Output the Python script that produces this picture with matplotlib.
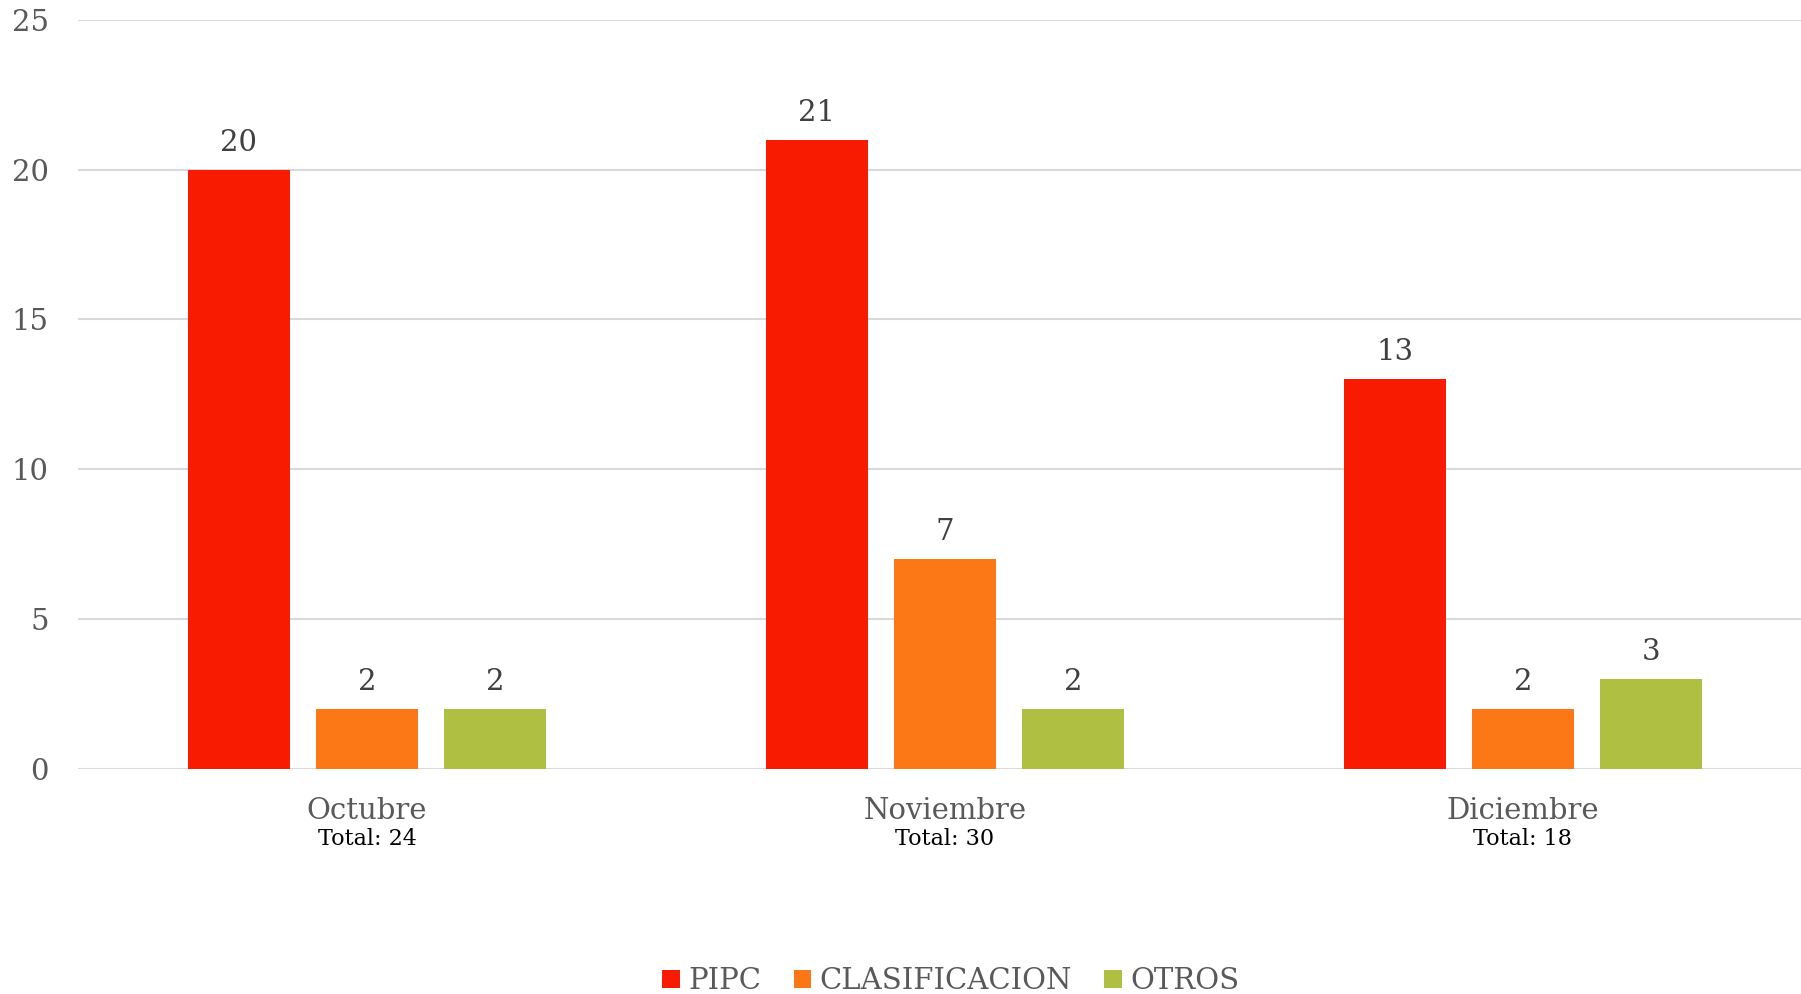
import matplotlib.pyplot as plt
import numpy as np

# data
months = ["Octubre", "Noviembre", "Diciembre"]
totals = [24, 30, 18]
series = ["PIPC", "CLASIFICACION", "OTROS"]
pipc = [20, 21, 13]
clasificacion = [2, 7, 2]
otros = [2, 2, 3]
colors = ["#F81B02", "#FC7715", "#AFBF41"]

plt.rcParams["font.family"] = "DejaVu Serif"

fig = plt.figure(figsize=(18.01, 9.94), dpi=100)
ax = fig.add_axes([0.0433, 0.2267, 0.9628, 0.7532])

x = np.arange(len(months))
w = 0.175
step = 0.2215
values = [pipc, clasificacion, otros]
for i, (name, vals) in enumerate(zip(series, values)):
    bars = ax.bar(x + (i - 1) * step, vals, w, color=colors[i], label=name, zorder=3)
    for b, v in zip(bars, vals):
        ax.annotate(str(v), (b.get_x() + b.get_width() / 2, v), xytext=(0, 9.5),
                    textcoords="offset points", ha="center", va="bottom",
                    fontsize=21, color="#404040")

ax.set_xlim(-0.5, 2.5)
ax.set_ylim(0, 25)
ax.set_yticks(range(0, 26, 5))
ax.grid(axis="y", color="#D9D9D9", linewidth=1.5, zorder=0)
for s in ax.spines.values():
    s.set_visible(False)
ax.tick_params(axis="y", length=0, pad=21, labelsize=21, labelcolor="#595959")
ax.set_xticks(x)
ax.set_xticklabels([])
ax.tick_params(axis="x", length=0)

# month names and totals under the axis
for xi, m, t in zip(x, months, totals):
    ax.text(xi, -0.056, m, transform=ax.get_xaxis_transform(), ha="center", va="center",
            fontsize=21, color="#595959")
    ax.text(xi, -0.094, "Total: %d" % t, transform=ax.get_xaxis_transform(), ha="center",
            va="center", fontsize=16, color="black")

leg = fig.legend(loc="center", bbox_to_anchor=(0.528, 0.013), ncol=3, frameon=False,
                 handlelength=0.6, handleheight=0.6, handletextpad=0.3, columnspacing=1.1,
                 prop={"size": 21})
for t in leg.get_texts():
    t.set_color("#595959")

fig.savefig("out.png", dpi=100)
